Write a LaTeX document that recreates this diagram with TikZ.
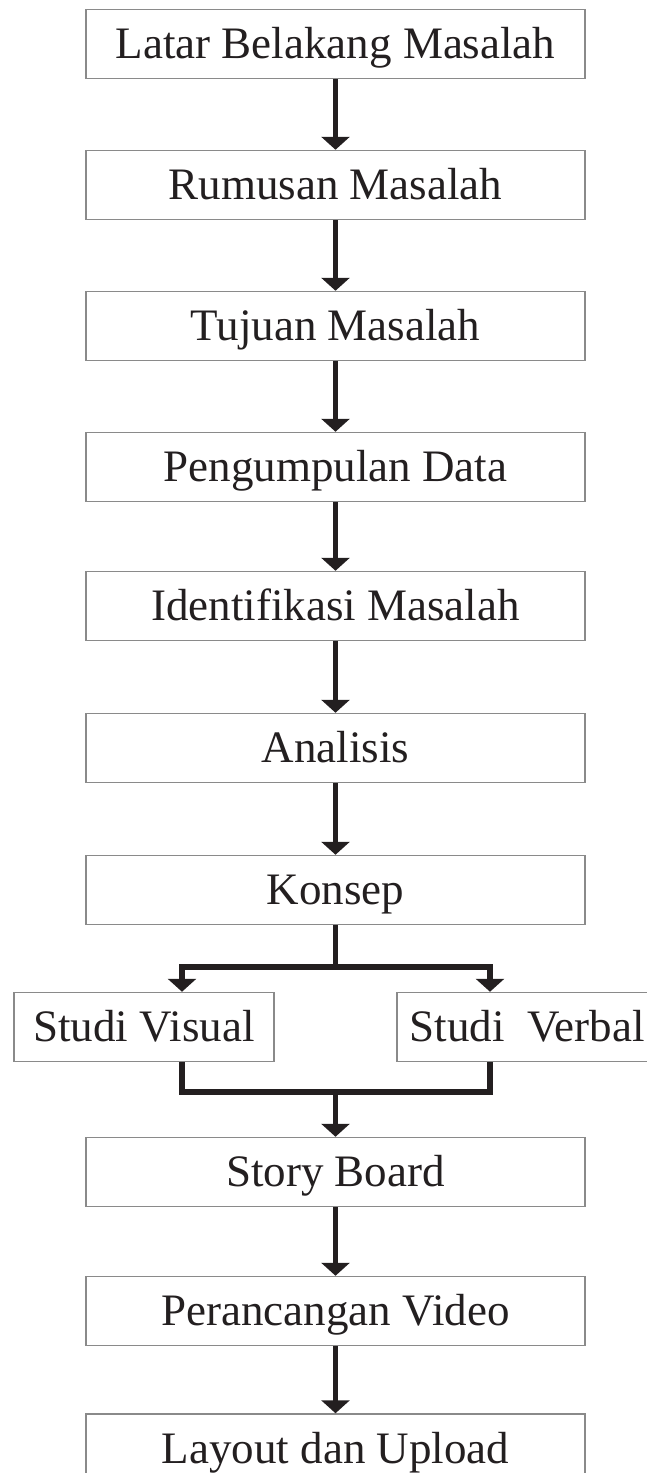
\documentclass[tikz,border=0pt]{standalone}
\usepackage{fontspec}
\setmainfont{Liberation Serif}
\usetikzlibrary{arrows.meta}
\definecolor{ink}{HTML}{231F20}
\definecolor{rim}{HTML}{8A8A8A}
\tikzset{
  stepbox/.style={draw=rim, line width=1.5pt, fill=white, inner sep=0pt,
    minimum width=499pt, minimum height=69pt, text=ink,
    text height=29pt, text depth=0pt,
    font=\fontsize{45}{50}\selectfont},
  sidebox/.style={stepbox, minimum width=260pt},
  link/.style={draw=ink, line width=5.5pt},
  flow/.style={link, -{Triangle[width=28pt,length=13pt]}}
}
\begin{document}
\begin{tikzpicture}[x=1pt, y=-1pt]
\useasboundingbox (0,0) rectangle (647,1473);

\node [stepbox] (latar)  at (335.5,44)  {Latar Belakang Masalah};
\node [stepbox] (rumusan) at (335.5,185) {Rumusan Masalah};
\node [stepbox] (tujuan) at (335.5,326) {Tujuan Masalah};
\node [stepbox] (data)   at (335.5,467) {Pengumpulan Data};
\node [stepbox] (identifikasi) at (335.5,606) {Identifikasi Masalah};
\node [stepbox] (analisis) at (335.5,748) {Analisis};
\node [stepbox] (konsep) at (335.5,890) {Konsep};
\node [sidebox] (visual) at (144,1027) {Studi Visual};
\node [sidebox] (verbal) at (527,1027) {Studi\ \ Verbal};
\node [stepbox] (story)  at (335.5,1172) {Story Board};
\node [stepbox] (rancang) at (335.5,1311) {Perancangan Video};
\node [stepbox] (layout) at (335.5,1448.5) {Layout dan Upload};

% straight steps
\draw [flow] (latar) -- (rumusan);
\draw [flow] (rumusan) -- (tujuan);
\draw [flow] (tujuan) -- (data);
\draw [flow] (data) -- (identifikasi);
\draw [flow] (identifikasi) -- (analisis);
\draw [flow] (analisis) -- (konsep);

% split into the two studies
\coordinate (splitL) at (182,967);
\coordinate (splitR) at (490,967);
\draw [flow] (konsep.south) |- (splitL) -- (splitL |- visual.north);
\draw [flow] (konsep.south) |- (splitR) -- (splitR |- verbal.north);

% merge back
\coordinate (mergeL) at (182,1092);
\coordinate (mergeR) at (490,1092);
\draw [link] (mergeL |- visual.south) -- (mergeL) -- (mergeR) -- (mergeR |- verbal.south);
\draw [flow] (story.north |- mergeL) -- (story.north);

\draw [flow] (story) -- (rancang);
\draw [flow] (rancang) -- (layout);

\end{tikzpicture}
\end{document}
